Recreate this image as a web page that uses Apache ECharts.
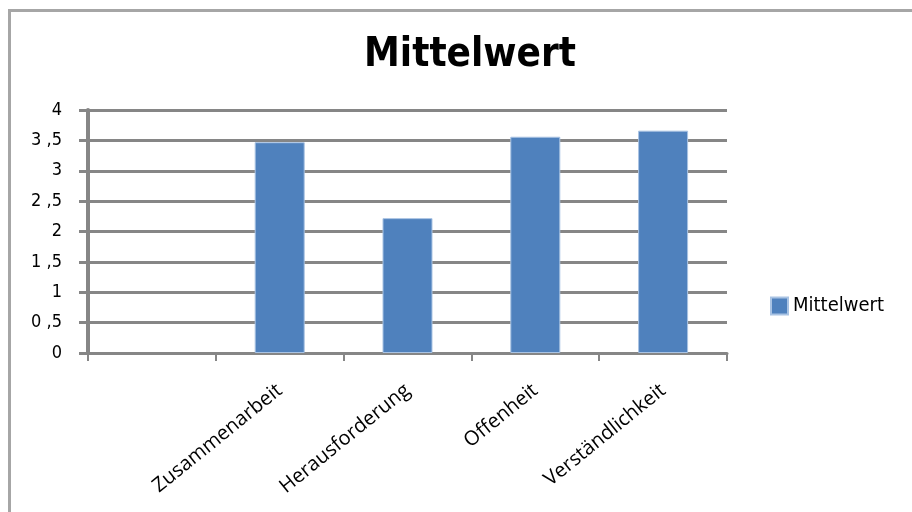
<!DOCTYPE html>
<html>
<head>
<meta charset="utf-8">
<script src="https://cdn.jsdelivr.net/npm/echarts@6/dist/echarts.min.js"></script>
<style>html,body{margin:0;padding:0;background:#fff}#c{width:912px;height:512px}</style>
</head>
<body>
<div id="c"></div>
<script>
const categories = ["", "Zusammenarbeit", "Herausforderung", "Offenheit", "Verständlichkeit"];
const values = [null, 3.47, 2.22, 3.56, 3.66];
const seriesName = "Mittelwert";
const titleText = "Mittelwert";

const chart = echarts.init(document.getElementById('c'), null, {renderer: 'canvas'});
const gray = '#868686';
const narrow = 'Liberation Sans Narrow, DejaVu Sans Condensed, sans-serif';
chart.setOption({
  animation: false,
  backgroundColor: '#fff',
  graphic: [{
    type: 'rect', left: 7, top: 8, shape: {width: 960, height: 560},
    style: {fill: 'none', stroke: '#a6a6a6', lineWidth: 3}, silent: true
  }],
  title: {
    text: titleText, left: 465, top: 31, textAlign: 'center',
    textStyle: {fontFamily: narrow, fontWeight: 'bold', fontSize: 40, color: '#000'}
  },
  legend: {
    data: [{name: seriesName, icon: 'rect'}], left: 765, top: 291, itemWidth: 17, itemHeight: 17, itemGap: 6,
    textStyle: {fontFamily: narrow, fontSize: 20, color: '#000'}
  },
  grid: {left: 88, right: 185, top: 110, bottom: 159, containLabel: false},
  xAxis: {
    type: 'category', data: categories, boundaryGap: true,
    axisLine: {lineStyle: {color: gray, width: 3}},
    axisTick: {show: true, length: 8, lineStyle: {color: gray, width: 2}},
    axisLabel: {interval: 0, rotate: 39, margin: 35, fontFamily: 'Open Sans, sans-serif', fontSize: 20, color: '#000'}
  },
  yAxis: {
    type: 'value', min: 0, max: 4, interval: 0.5,
    axisLine: {show: true, lineStyle: {color: gray, width: 4}},
    axisTick: {show: true, length: 9, lineStyle: {color: gray, width: 3}},
    splitLine: {show: true, lineStyle: {color: gray, width: 3}},
    axisLabel: {margin: 26, fontFamily: narrow, fontSize: 18, color: '#000',
      formatter: v => String(v).replace('.', ' ,')}
  },
  series: [{
    name: seriesName, type: 'bar', data: values, barWidth: 50,
    itemStyle: {color: '#4F81BD', borderColor: '#a9c3e3', borderWidth: 1}
  }]
});
</script>
</body>
</html>
